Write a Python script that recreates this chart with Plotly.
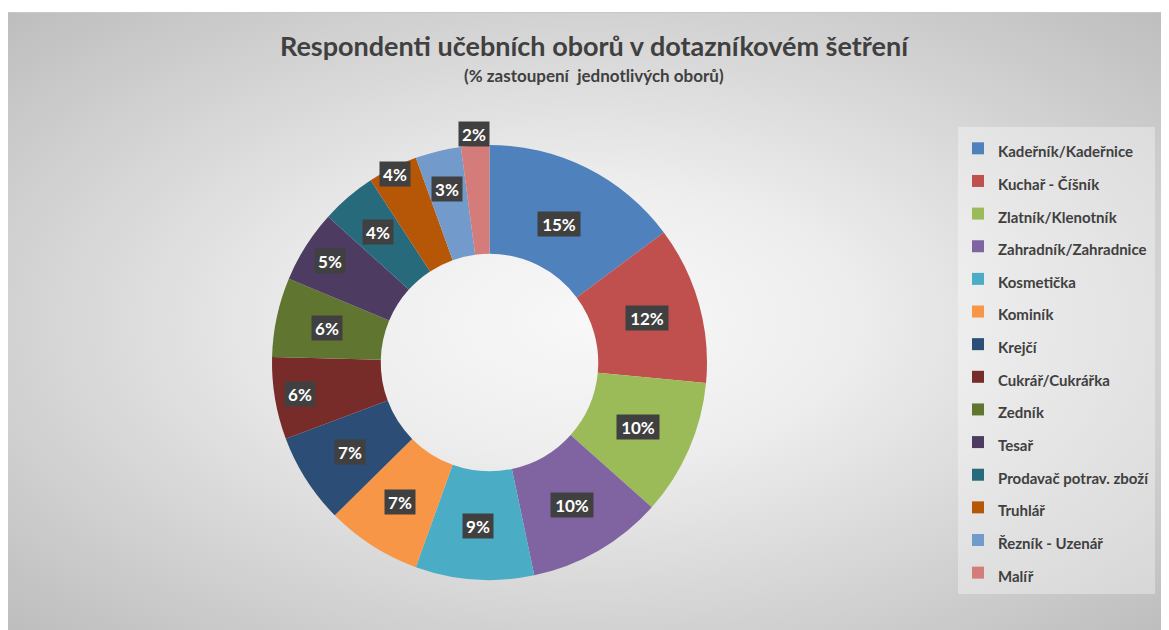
import base64
import math
import plotly.graph_objects as go

# data (share of respondents, %)
obory = ["Kadeřník/Kadeřnice", "Kuchař - Číšník", "Zlatník/Klenotník",
         "Zahradník/Zahradnice", "Kosmetička", "Kominík", "Krejčí",
         "Cukrář/Cukrářka", "Zedník", "Tesař", "Prodavač potrav. zboží",
         "Truhlář", "Řezník - Uzenář", "Malíř"]
podil = [14.8, 11.7, 10.1, 10.1, 8.8, 7.1, 6.7, 6.1, 5.9, 5.4, 4.1, 3.7, 3.4, 2.1]

barvy = ["#4F81BD", "#C0504D", "#9BBB59", "#8064A2", "#4BACC6", "#F79646",
         "#2C4D75", "#772C2A", "#5F7530", "#4D3B62", "#276A7C", "#B65708",
         "#729ACA", "#D47C7A"]

# how far out each data label sits (fraction of outer radius), Excel "best fit"
label_r = [0.71, 0.75, 0.745, 0.755, 0.755, 0.76, 0.76, 0.885, 0.765, 0.87,
           0.79, 0.97, 0.82, 1.055]

# page has an 8px body margin, so the figure is 8px smaller than the window
W, H = 1161, 622
FONT = "Lato"
TXT = "#404040"

# donut geometry in figure pixels
cx, cy, R = 481.5, 354.5, 217.5

#   background: radial gradient like the Excel chart area
svg = ('<svg xmlns="http://www.w3.org/2000/svg" width="1161" height="618" '
       'viewBox="0 0 1161 618" preserveAspectRatio="none">'
       '<defs><radialGradient id="g" cx="0.5" cy="0.5" r="0.72">'
       '<stop offset="0" stop-color="#f8f8f8"/>'
       '<stop offset="0.3" stop-color="#eeeeee"/>'
       '<stop offset="1" stop-color="#bcbcbc"/>'
       '</radialGradient></defs>'
       '<rect width="100%" height="100%" fill="url(#g)"/>'
       '<line x1="0" y1="0.5" x2="1161" y2="0.5" stroke="#c8c8c8" stroke-width="1"/>'
       '</svg>')
bg_src = "data:image/svg+xml;base64," + base64.b64encode(svg.encode()).decode()

fig = go.Figure()

fig.add_trace(go.Pie(
    labels=[f'<span style="font-size:15px"><b>{o}</b></span>' for o in obory],
    values=podil,
    hole=0.5,
    sort=False,
    direction="clockwise",
    rotation=0,
    marker=dict(colors=barvy, line=dict(width=0)),
    textinfo="none",
    hoverinfo="label+percent",
    domain=dict(x=[(cx - R) / W, (cx + R) / W],
                y=[1 - (cy + R) / H, 1 - (cy - R) / H]),
))

# data labels in dark boxes
total = sum(podil)
cum = 0
for v, rf in zip(podil, label_r):
    mid = (cum + v / 2) / total * 2 * math.pi
    cum += v
    px = cx + rf * R * math.sin(mid)
    py = cy - rf * R * math.cos(mid)
    txt = f"{round(v / total * 100)}%"
    fig.add_annotation(
        x=px / W, y=1 - py / H, xref="paper", yref="paper",
        xanchor="center", yanchor="middle",
        text=f"<b>{txt}</b>", showarrow=False,
        font=dict(family=FONT, size=17, color="white"),
        bgcolor="#404040", borderpad=0,
        width=12 + 10 * len(txt) - (2 if len(txt) == 2 else 0), height=24,
    )

fig.add_annotation(
    x=586 / W, y=1 - 67 / H, xref="paper", yref="paper",
    xanchor="center", yanchor="middle",
    text="<b>(% zastoupení&nbsp; jednotlivých oborů)</b>", showarrow=False,
    font=dict(family=FONT, size=17, color=TXT),
)

fig.update_layout(
    width=W, height=H,
    margin=dict(l=0, r=0, t=0, b=0),
    paper_bgcolor="white",
    title=dict(text="<b>Respondenti učebních oborů v dotazníkovém šetření</b>",
               x=586 / W, y=1 - 39 / H, xanchor="center", yanchor="middle",
               font=dict(family=FONT, size=27, color=TXT)),
    legend=dict(x=950 / W, y=1 - 119 / H, xanchor="left", yanchor="top",
                font=dict(family=FONT, size=22.8, color=TXT),
                bgcolor="rgba(255,255,255,0.35)", borderwidth=0,
                traceorder="normal"),
    images=[dict(source=bg_src, xref="paper", yref="paper",
                 x=0, y=1 - 4 / H, sizex=1, sizey=1 - 4 / H,
                 xanchor="left", yanchor="top", sizing="stretch",
                 layer="below")],
)

fig.write_html("out.html")
